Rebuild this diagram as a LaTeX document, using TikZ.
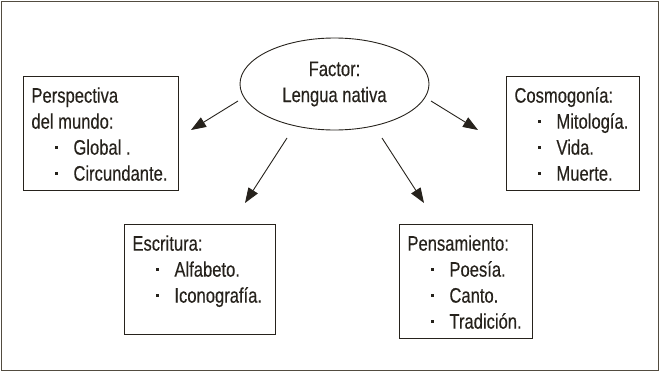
\documentclass[tikz,border=0pt]{standalone}
\usepackage{fontspec}
\setmainfont[FakeStretch=0.79,FakeBold=0.3]{Liberation Sans}
\usetikzlibrary{arrows.meta,shapes.geometric}
\definecolor{ink}{RGB}{38,34,28}
\definecolor{rim}{RGB}{82,76,64}
\newcommand{\itm}[1]{\makebox[42pt][l]{\hspace{24pt}\raisebox{5.8pt}{\rule{2.1pt}{2.7pt}}}#1}
\tikzset{box/.style={draw=ink,line width=0.9pt,anchor=north west,inner sep=8pt,text=ink}}

\begin{document}
\begin{tikzpicture}[x=1pt,y=-1pt,font=\fontsize{21}{26}\selectfont]
        \useasboundingbox (0,0) rectangle (660,372);
        \draw[rim,line width=1.5pt] (1.5,1.5) rectangle (658.5,370.5);

        \node (factor) at (334.5,84) [ellipse,draw=ink,line width=0.9pt,minimum width=189,minimum height=92,inner sep=0pt,align=center,text=ink]{Factor:\\Lengua nativa};

        \node (persp) at (23,76) [box]{\parbox[t][98pt][t]{139pt}{\strut Perspectiva\\del mundo:\\\itm{Global .}\\\itm{Circundante.}}};
        \node (cosmo) at (506,76) [box]{\parbox[t][98pt][t]{117pt}{\strut Cosmogonía:\\\itm{Mitología.}\\\itm{Vida.}\\\itm{Muerte.}}};
        \node (escr) at (124,224) [box]{\parbox[t][94pt][t]{135pt}{\strut Escritura:\\\itm{Alfabeto.}\\\itm{Iconografía.}}};
        \node (pens) at (399,224) [box]{\parbox[t][98pt][t]{117pt}{\strut Pensamiento:\\\itm{Poesía.}\\\itm{Canto.}\\\itm{Tradición.}}};

        \coordinate (s1) at (238,101);
        \coordinate (t1) at (191,130);
        \coordinate (s2) at (287,138);
        \coordinate (t2) at (245,203);
        \coordinate (s3) at (382,138);
        \coordinate (t3) at (424,203);
        \coordinate (s4) at (431,101);
        \coordinate (t4) at (478,130);

        \begin{scope}[>={Triangle[length=15pt,width=11pt]},draw=ink,line width=0.9pt]
          \draw[->] (s1) -- (t1);
          \draw[->] (s2) -- (t2);
          \draw[->] (s3) -- (t3);
          \draw[->] (s4) -- (t4);
        \end{scope}
\end{tikzpicture}
\end{document}
